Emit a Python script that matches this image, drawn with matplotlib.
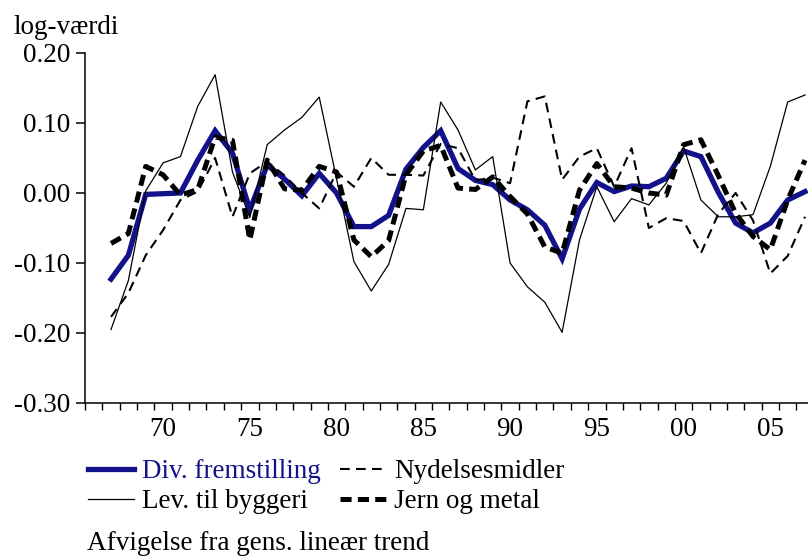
import numpy as np
import matplotlib
matplotlib.use('Agg')
import matplotlib.pyplot as plt
from matplotlib.ticker import FixedLocator, FuncFormatter

plt.rcParams['font.family'] = ['Liberation Serif', 'DejaVu Serif']
plt.rcParams['font.size'] = 19.5
plt.rcParams['axes.unicode_minus'] = False
plt.rcParams['lines.scale_dashes'] = False

# Years 1967-2007
years = np.arange(1967, 2008)

# Afvigelse fra lineær trend (log-værdi)
div_fremstilling = [-0.123, -0.089, -0.002, -0.001, 0.000, 0.047, 0.089, 0.057, -0.024, 0.040,
                    0.020, -0.004, 0.028, 0.000, -0.048, -0.048, -0.032, 0.034, 0.065, 0.089,
                    0.035, 0.018, 0.012, -0.010, -0.024, -0.046, -0.094, -0.023, 0.015, 0.002,
                    0.010, 0.009, 0.021, 0.060, 0.052, 0.001, -0.043, -0.057, -0.043, -0.010,
                    0.002]
lev_byggeri = [-0.195, -0.125, 0.003, 0.043, 0.052, 0.124, 0.169, 0.030, -0.035, 0.069,
               0.090, 0.108, 0.137, 0.020, -0.098, -0.140, -0.102, -0.022, -0.024, 0.130,
               0.090, 0.033, 0.052, -0.100, -0.134, -0.156, -0.199, -0.067, 0.009, -0.041,
               -0.008, -0.017, 0.014, 0.066, -0.010, -0.034, -0.034, -0.031, 0.038, 0.130,
               0.140]
nydelsesmidler = [-0.177, -0.143, -0.089, -0.053, -0.010, 0.002, 0.050, -0.034, 0.028, 0.045,
                  0.025, 0.000, -0.022, 0.030, 0.009, 0.050, 0.026, 0.026, 0.025, 0.070,
                  0.064, 0.018, 0.022, 0.014, 0.131, 0.138, 0.019, 0.052, 0.064, 0.009,
                  0.064, -0.050, -0.036, -0.040, -0.086, -0.030, 0.000, -0.039, -0.115, -0.090,
                  -0.034]
jern_metal = [-0.072, -0.058, 0.038, 0.026, -0.003, 0.005, 0.080, 0.075, -0.067, 0.047,
              0.006, 0.004, 0.038, 0.030, -0.067, -0.091, -0.068, 0.026, 0.060, 0.068,
              0.007, 0.005, 0.023, -0.005, -0.030, -0.077, -0.086, 0.004, 0.042, 0.009,
              0.007, 0.000, -0.003, 0.069, 0.076, 0.025, -0.029, -0.062, -0.081, -0.010,
              0.047]

label_years = [1970, 1975, 1980, 1985, 1990, 1995, 2000, 2005]
label_text = ['70', '75', '80', '85', '90', '95', '00', '05']

navy = '#12128a'

fig = plt.figure(figsize=(8.08, 5.56), dpi=100)
ax = fig.add_axes([85 / 808, 1 - 403 / 556, 728.7 / 808, 350 / 556])

l1, = ax.plot(years, div_fremstilling, color=navy, lw=3.8, solid_joinstyle='miter',
              label='Div. fremstilling')
l2, = ax.plot(years, lev_byggeri, color='black', lw=0.9, label='Lev. til byggeri')
l3, = ax.plot(years, nydelsesmidler, color='black', lw=1.5, dashes=(7, 4.5),
              label='Nydelsesmidler')
l4, = ax.plot(years, jern_metal, color='black', lw=3.6, dashes=(8, 4.5),
              label='Jern og metal')

ax.set_xlim(1965.5, 2007.5)
ax.set_ylim(-0.30, 0.20)
ax.set_yticks(np.arange(-0.30, 0.201, 0.10))
ax.yaxis.set_major_formatter(FuncFormatter(lambda v, p: '%.2f' % v))
ax.set_xticks(label_years)
ax.set_xticklabels(label_text)
ax.xaxis.set_minor_locator(FixedLocator(np.arange(1965.5, 2008, 1.0)))

for s in ['top', 'right']:
    ax.spines[s].set_visible(False)
for s in ['left', 'bottom']:
    ax.spines[s].set_linewidth(1.1)
ax.tick_params(axis='y', direction='out', length=6.5, width=1.1, pad=4)
ax.tick_params(axis='x', which='major', length=0, pad=10)
ax.tick_params(axis='x', which='minor', direction='out', length=5, width=1.0)

fig.text(13 / 808, 1 - 27 / 556, 'log-værdi', va='center', ha='left')

leg = fig.legend(handles=[l1, l2, l3, l4], ncol=2, frameon=False,
                 loc='upper left', bbox_to_anchor=(88 / 808, 1 - 459 / 556),
                 borderpad=0, borderaxespad=0, handlelength=1.7, handletextpad=0.3,
                 columnspacing=0.7, labelspacing=0.2)
leg.get_texts()[0].set_color(navy)

fig.text(87 / 808, 1 - 544 / 556, 'Afvigelse fra gens. lineær trend', va='center', ha='left')

fig.savefig('out.png', dpi=100)
